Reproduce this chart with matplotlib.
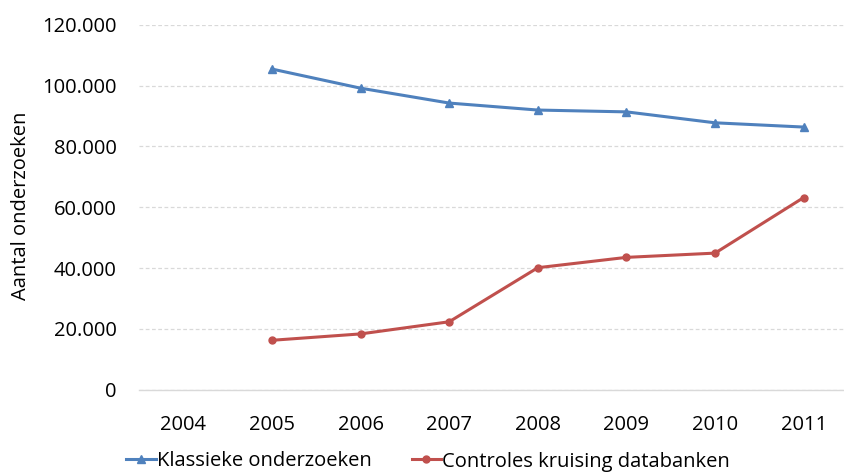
import matplotlib
matplotlib.use("Agg")
import matplotlib.pyplot as plt
from matplotlib.ticker import FuncFormatter

years = ["2004", "2005", "2006", "2007", "2008", "2009", "2010", "2011"]
klassieke = [None, 105500, 99200, 94300, 92000, 91400, 87800, 86400]
controles = [None, 16200, 18300, 22300, 40100, 43500, 44900, 63200]
series_names = ["Klassieke onderzoeken", "Controles kruising databanken"]
y_label = "Aantal onderzoeken"

plt.rcParams['font.family'] = ['Open Sans', 'DejaVu Sans']
FS = 14.5

fig = plt.figure(figsize=(8.44, 4.72), dpi=100)
ax = fig.add_axes([139/844, 1 - 389.5/472, (848-139)/844, (389.5-25)/472])

x = list(range(len(years)))
def xy(vals):
    pts = [(i, v) for i, v in zip(x, vals) if v is not None]
    return [p[0] for p in pts], [p[1] for p in pts]

bx, by = xy(klassieke)
rx, ry = xy(controles)
ax.plot(bx, by, color="#4F81BD", lw=2.2, marker="^", ms=6, label=series_names[0], clip_on=False)
ax.plot(rx, ry, color="#C0504D", lw=2.2, marker="o", ms=5, label=series_names[1], clip_on=False)

ax.set_xlim(-0.5, len(years) - 0.5)
ax.set_ylim(0, 120000)
ax.set_yticks(range(0, 120001, 20000))
ax.yaxis.set_major_formatter(FuncFormatter(lambda v, p: f"{int(v):,}".replace(",", ".")))
ax.set_xticks(x)
ax.set_xticklabels(years)
ax.tick_params(axis="both", length=0, labelsize=FS, colors="#000000")
ax.tick_params(axis="x", pad=18.5)
ax.tick_params(axis="y", pad=16)

for s in ["top", "right", "left"]:
    ax.spines[s].set_visible(False)
ax.spines["bottom"].set_color("#D9D9D9")
ax.spines["bottom"].set_linewidth(1.0)

ax.yaxis.grid(True, color="#D9D9D9", linestyle=(0, (3, 2)), lw=0.9)
ax.set_axisbelow(True)

fig.text(21/844, 1 - 206/472, y_label, rotation=90, ha="center", va="center", fontsize=FS)

leg = fig.legend(loc="center", bbox_to_anchor=(428/844, 1 - 461.5/472), ncol=2, frameon=False,
                 fontsize=FS, handlelength=1.45, handletextpad=0.05, columnspacing=2.0)

fig.savefig("out.png", dpi=100)
